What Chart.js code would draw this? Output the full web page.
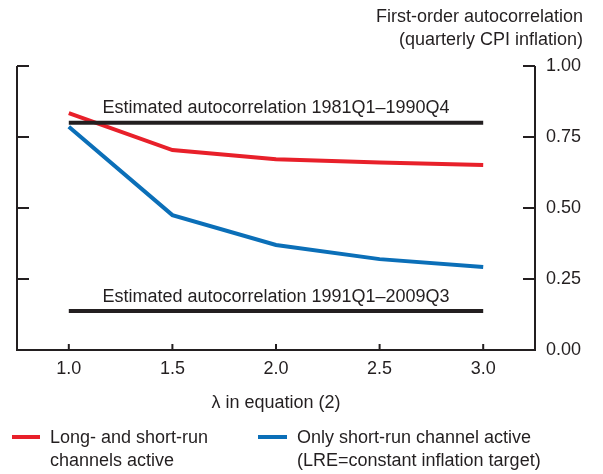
<!DOCTYPE html>
<html>
<head>
<meta charset="utf-8">
<script src="https://cdn.jsdelivr.net/npm/chart.js@4"></script>
<style>
  html, body { margin: 0; padding: 0; background: #fff; }
  #wrap { width: 603px; height: 474px; position: relative; }
</style>
</head>
<body>
<div id="wrap"><canvas id="chart" width="603" height="474"></canvas></div>
<script>
// ─── Dados ───────────────────────────────────────────
const lambdas      = [1.0, 1.5, 2.0, 2.5, 3.0];
const bothChannels = [0.834, 0.704, 0.672, 0.660, 0.651];
const shortRunOnly = [0.786, 0.475, 0.370, 0.320, 0.292];
const est1981      = 0.80;
const est1991      = 0.137;
const yTicks       = [0, 0.25, 0.5, 0.75, 1.0];

const RED   = '#E8202A';
const BLUE  = '#0B6FB8';
const INK   = '#231F20';
const FONT  = '18px "Liberation Sans", Arial, sans-serif';

const pts = arr => lambdas.map((x, i) => ({ x, y: arr[i] }));
const flat = v => [{ x: lambdas[0], y: v }, { x: lambdas[lambdas.length - 1], y: v }];

// ─── Eixos, rótulos e legenda desenhados à mão ───────
const decor = {
  id: 'decor',
  afterDraw(chart) {
    const { ctx, chartArea: a, scales: { x, y } } = chart;
    ctx.save();
    ctx.strokeStyle = INK;
    ctx.fillStyle = INK;
    ctx.lineWidth = 2;
    ctx.lineCap = 'butt';

    // moldura: esquerda, baixo, direita
    ctx.beginPath();
    ctx.moveTo(a.left, a.top);
    ctx.lineTo(a.left, a.bottom);
    ctx.lineTo(a.right, a.bottom);
    ctx.lineTo(a.right, a.top);
    ctx.stroke();

    // ticks do y (para dentro)
    yTicks.forEach(v => {
      const py = y.getPixelForValue(v);
      ctx.beginPath();
      ctx.moveTo(a.left, py); ctx.lineTo(a.left + 12, py);
      ctx.moveTo(a.right, py); ctx.lineTo(a.right - 12, py);
      ctx.stroke();
    });
    // ticks do x
    lambdas.forEach(v => {
      const px = x.getPixelForValue(v);
      ctx.beginPath();
      ctx.moveTo(px, a.bottom); ctx.lineTo(px, a.bottom - 6);
      ctx.stroke();
    });

    ctx.font = FONT;
    ctx.textBaseline = 'middle';
    ctx.textAlign = 'left';
    yTicks.forEach(v => ctx.fillText(v.toFixed(2), a.right + 11, y.getPixelForValue(v)));

    ctx.textAlign = 'center';
    lambdas.forEach(v => ctx.fillText(v.toFixed(1), x.getPixelForValue(v), a.bottom + 19));
    ctx.fillText('\u03bb in equation (2)', x.getPixelForValue(2.0), a.bottom + 53);

    // anotações
    ctx.textBaseline = 'alphabetic';
    const mid = x.getPixelForValue(2.0);
    ctx.fillText('Estimated autocorrelation 1981Q1\u20131990Q4', mid, y.getPixelForValue(est1981) - 10);
    ctx.fillText('Estimated autocorrelation 1991Q1\u20132009Q3', mid, y.getPixelForValue(est1991) - 9);

    // título do eixo direito
    ctx.textAlign = 'right';
    ctx.textBaseline = 'middle';
    ctx.fillText('First-order autocorrelation', 583, 17);
    ctx.fillText('(quarterly CPI inflation)', 583, 40);

    // legenda
    ctx.lineWidth = 4;
    ctx.strokeStyle = RED;
    ctx.beginPath(); ctx.moveTo(12, 437); ctx.lineTo(40, 437); ctx.stroke();
    ctx.strokeStyle = BLUE;
    ctx.beginPath(); ctx.moveTo(258, 437); ctx.lineTo(287, 437); ctx.stroke();
    ctx.textAlign = 'left';
    ctx.fillText('Long- and short-run', 50, 438);
    ctx.fillText('channels active', 50, 461);
    ctx.fillText('Only short-run channel active', 297, 438);
    ctx.fillText('(LRE=constant inflation target)', 297, 461);
    ctx.restore();
  }
};

new Chart(document.getElementById('chart'), {
  type: 'line',
  data: {
    datasets: [
      { data: flat(est1981), borderColor: INK, borderWidth: 4, pointRadius: 0, borderCapStyle: 'butt' },
      { data: flat(est1991), borderColor: INK, borderWidth: 4, pointRadius: 0, borderCapStyle: 'butt' },
      { data: pts(bothChannels), borderColor: RED, borderWidth: 4, pointRadius: 0, tension: 0 },
      { data: pts(shortRunOnly), borderColor: BLUE, borderWidth: 4, pointRadius: 0, tension: 0 },
    ]
  },
  options: {
    responsive: false,
    animation: false,
    layout: { padding: { left: 17, right: 68, top: 66, bottom: 124 } },
    scales: {
      x: { type: 'linear', min: 0.75, max: 3.25, display: false },
      y: { min: 0, max: 1, display: false },
    },
    plugins: { legend: { display: false }, tooltip: { enabled: false } }
  },
  plugins: [decor]
});
</script>
</body>
</html>
